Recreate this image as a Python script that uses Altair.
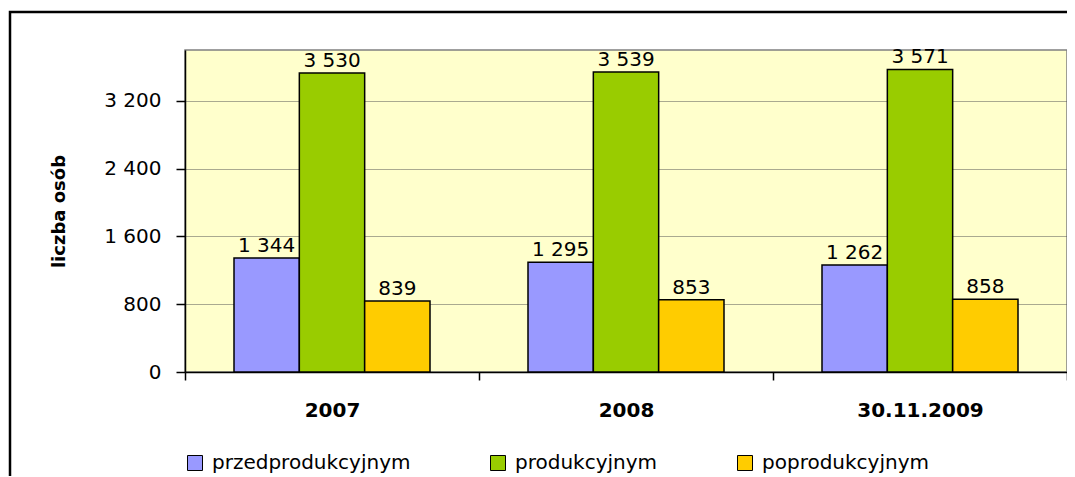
import altair as alt
import pandas as pd

categories = ["2007", "2008", "30.11.2009"]
groups = ["przedprodukcyjnym", "produkcyjnym", "poprodukcyjnym"]
przed = [1344, 1295, 1262]
prod = [3530, 3539, 3571]
popr = [839, 853, 858]
colors = ["#9999FF", "#99CC00", "#FFCC00"]
y_ticks = [0, 800, 1600, 2400, 3200]

rows = []
for i, c in enumerate(categories):
    for g, vals in zip(groups, [przed, prod, popr]):
        v = vals[i]
        rows.append({"rok": c, "grupa": g, "liczba": v,
                     "etykieta": f"{v:,}".replace(",", " ")})
df = pd.DataFrame(rows)

FONT = "DejaVu Sans"
W, H = 882, 322

x_enc = alt.X("rok:N", sort=categories, title=None,
              scale=alt.Scale(paddingInner=0, paddingOuter=0),
              axis=alt.Axis(labelAngle=0, labelFont=FONT, labelFontSize=20,
                            labelFontWeight="bold", labelColor="black",
                            tickBand="extent", tickSize=8, tickColor="black",
                            tickWidth=1.5, domainColor="black", domainWidth=1.5,
                            labelPadding=20, grid=False))
xo = alt.XOffset("grupa:N", sort=groups,
                 scale=alt.Scale(paddingInner=0, paddingOuter=0.75))

base = alt.Chart(df)

bars = base.mark_bar(stroke="black", strokeWidth=1.5).encode(
    x=x_enc,
    xOffset=xo,
    y=alt.Y("liczba:Q", title="liczba osób",
            scale=alt.Scale(domain=[0, 3800], nice=False),
            axis=alt.Axis(values=y_ticks,
                          labelExpr="replace(format(datum.value, ','), ',', ' ')",
                          labelFont=FONT, labelFontSize=20, labelColor="black",
                          tickSize=9, tickColor="black", tickWidth=1.5,
                          domainColor="black", domainWidth=1.5, labelPadding=15,
                          grid=True, gridColor="#555555", gridDash=[1, 1],
                          gridWidth=1,
                          titleFont=FONT, titleFontSize=18, titleFontWeight="bold",
                          titleColor="black", titleAngle=-90, titleX=-126,
                          titleY=H / 2, titleAlign="center",
                          titleBaseline="middle")),
    color=alt.Color("grupa:N", sort=groups,
                    scale=alt.Scale(domain=groups, range=colors),
                    legend=alt.Legend(title=None, orient="none", direction="horizontal",
                                      legendX=0, legendY=403,
                                      symbolType="square", symbolSize=225,
                                      symbolStrokeColor="black", symbolStrokeWidth=1,
                                      symbolOpacity=1, labelFont=FONT,
                                      labelFontSize=20, labelColor="black",
                                      labelOffset=7, columnPadding=77,
                                      labelLimit=400)),
)

labels = base.mark_text(font=FONT, fontSize=20, color="black",
                        baseline="bottom", dy=-2).encode(
    x=alt.X("rok:N", sort=categories),
    xOffset=xo,
    y="liczba:Q",
    text="etykieta:N",
)

frame = alt.Chart(pd.DataFrame({"a": [0]})).mark_rect(
    fill="transparent", stroke="black", strokeWidth=2.5, clip=False
).encode(
    x=alt.value(-175), x2=alt.value(W + 40),
    y=alt.value(-38), y2=alt.value(H + 200),
)

chart = alt.layer(frame, bars, labels).properties(
    width=W, height=H,
    autosize=alt.AutoSizeParams(type="none"),
    padding={"left": 177, "top": 42, "right": 0, "bottom": 104},
).configure_view(
    fill="#FFFFCC", stroke="#808080", strokeWidth=1.5
)

chart.save("out.html", embed_options={"renderer": "svg", "actions": False})
